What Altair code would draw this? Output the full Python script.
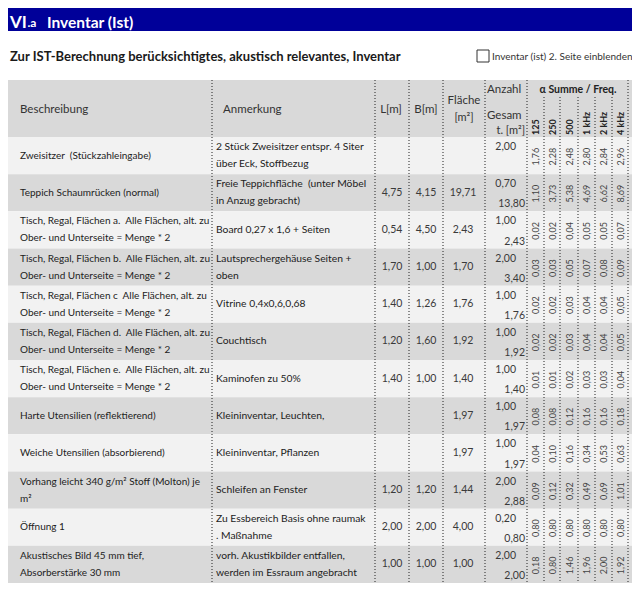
import altair as alt
import pandas as pd

# ---------------- data ----------------
TITLE_MAIN = "VI"
TITLE_SUB = ".a"
TITLE_TEXT = "Inventar (Ist)"
SUBTITLE = "Zur IST-Berechnung berücksichtigtes, akustisch relevantes, Inventar"
CHECKBOX_LABEL = "Inventar (ist) 2. Seite einblenden"
FREQ_GROUP = "α Summe / Freq."
FREQ_LABELS = ["125", "250", "500", "1 kHz", "2 kHz", "4 kHz"]

beschreibung = [
    "Zweisitzer  (Stückzahleingabe)",
    "Teppich Schaumrücken (normal)",
    "Tisch, Regal, Flächen a.  Alle Flächen, alt. zu\nOber- und Unterseite = Menge * 2",
    "Tisch, Regal, Flächen b.  Alle Flächen, alt. zu\nOber- und Unterseite = Menge * 2",
    "Tisch, Regal, Flächen c  Alle Flächen, alt. zu\nOber- und Unterseite = Menge * 2",
    "Tisch, Regal, Flächen d.  Alle Flächen, alt. zu\nOber- und Unterseite = Menge * 2",
    "Tisch, Regal, Flächen e.  Alle Flächen, alt. zu\nOber- und Unterseite = Menge * 2",
    "Harte Utensilien (reflektierend)",
    "Weiche Utensilien (absorbierend)",
    "Vorhang leicht 340 g/m² Stoff (Molton) je\nm²",
    "Öffnung 1",
    "Akustisches Bild 45 mm tief,\nAbsorberstärke 30 mm",
]
anmerkung = [
    "2 Stück Zweisitzer entspr. 4 Siter\nüber Eck, Stoffbezug",
    "Freie Teppichfläche  (unter Möbel\nin Anzug gebracht)",
    "Board 0,27 x 1,6 + Seiten",
    "Lautsprechergehäuse Seiten +\noben",
    "Vitrine 0,4x0,6,0,68",
    "Couchtisch",
    "Kaminofen zu 50%",
    "Kleininventar, Leuchten,",
    "Kleininventar, Pflanzen",
    "Schleifen an Fenster",
    "Zu Essbereich Basis ohne raumak\n. Maßnahme",
    "vorh. Akustikbilder entfallen,\nwerden im Essraum angebracht",
]
laenge = [None, 4.75, 0.54, 1.70, 1.40, 1.20, 1.40, None, None, 1.20, 2.00, 1.00]
breite = [None, 4.15, 4.50, 1.00, 1.26, 1.60, 1.00, None, None, 1.20, 2.00, 1.00]
flaeche = [None, 19.71, 2.43, 1.70, 1.76, 1.92, 1.40, 1.97, 1.97, 1.44, 4.00, 1.00]
anzahl = [2.00, 0.70, 1.00, 2.00, 1.00, 1.00, 1.00, 1.00, 1.00, 2.00, 0.20, 2.00]
gesamt = [None, 13.80, 2.43, 3.40, 1.76, 1.92, 1.40, 1.97, 1.97, 2.88, 0.80, 2.00]
a125 = [1.76, 1.10, 0.02, 0.03, 0.02, 0.02, 0.01, 0.08, 0.04, 0.09, 0.80, 0.18]
a250 = [2.28, 3.73, 0.02, 0.03, 0.02, 0.02, 0.01, 0.08, 0.10, 0.12, 0.80, 0.80]
a500 = [2.48, 5.38, 0.04, 0.05, 0.03, 0.03, 0.02, 0.12, 0.16, 0.32, 0.80, 1.46]
a1k = [2.80, 4.69, 0.05, 0.07, 0.04, 0.04, 0.03, 0.16, 0.34, 0.49, 0.80, 1.96]
a2k = [2.84, 6.62, 0.05, 0.08, 0.04, 0.04, 0.03, 0.16, 0.53, 0.69, 0.80, 2.00]
a4k = [2.96, 8.69, 0.07, 0.09, 0.05, 0.05, 0.04, 0.18, 0.63, 1.01, 0.80, 1.92]
alphas = [a125, a250, a500, a1k, a2k, a4k]

# ---------------- layout (page pixel grid) ----------------
W, H = 624, 575
X0, Y0 = 8, 8
FONT = "Lato"
TABLE_L, TABLE_R = 8, 633
HEAD_T, HEAD_B = 80, 137
ROW_H = (Y0 + H - HEAD_B) / len(beschreibung)
COL_LINES = [212, 375, 409, 443, 485, 527, 544, 560, 578, 595, 612, 628]
FREQ_INNER = [544, 560, 578, 595, 612]
FREQ_CENTERS = [536, 552.5, 569.5, 587, 604, 620.5]
LINE_GAP = 17
DARK = "#222222"
NUM = "#3a3a3a"
HEAD = "#333333"


def fmt(v):
    return "" if v is None else f"{v:.2f}".replace(".", ",")


def keep_spaces(s):
    return s.replace("  ", " \u00a0")


xs = alt.Scale(domain=[X0, X0 + W], range=[0, W])
ys = alt.Scale(domain=[Y0, Y0 + H], range=[0, H])

# rectangles
rects = [
    dict(x=X0, x2=X0 + W, y=Y0, y2=31, c="#000099"),
    dict(x=TABLE_L, x2=TABLE_R, y=HEAD_T, y2=HEAD_B, c="#d9d9d9"),
]
for i in range(len(beschreibung)):
    top = HEAD_B + i * ROW_H
    rects.append(dict(x=TABLE_L, x2=TABLE_R, y=top, y2=top + ROW_H,
                      c="#f2f2f2" if i % 2 == 0 else "#d9d9d9"))
rect_df = pd.DataFrame(rects)
rect_layer = alt.Chart(rect_df).mark_rect(clip=True).encode(
    x=alt.X("x:Q", scale=xs, axis=None), x2="x2:Q",
    y=alt.Y("y:Q", scale=ys, axis=None), y2="y2:Q",
    color=alt.Color("c:N", scale=None),
)

checkbox = alt.Chart(pd.DataFrame([dict(x=477, x2=489, y=50, y2=62)])).mark_rect(
    fill="white", stroke="#333333", strokeWidth=1
).encode(x=alt.X("x:Q", scale=xs, axis=None), x2="x2:Q",
         y=alt.Y("y:Q", scale=ys, axis=None), y2="y2:Q")

# dotted column lines
lines = []
for xv in COL_LINES:
    top = 97 if xv in FREQ_INNER else HEAD_T
    lines.append(dict(x=xv, y=top, y2=HEAD_B + len(beschreibung) * ROW_H))
rule_layer = alt.Chart(pd.DataFrame(lines)).mark_rule(
    color="#222222", strokeDash=[1, 2], strokeWidth=1
).encode(x=alt.X("x:Q", scale=xs, axis=None),
         y=alt.Y("y:Q", scale=ys, axis=None), y2="y2:Q")

# texts
texts = []


def add(x, y, t, size=10, color=DARK, align="left", weight="normal", angle=0):
    texts.append(dict(x=x, y=y, t=keep_spaces(t), size=size, color=color,
                      align=align, weight=weight, angle=angle))


def add_multi(x, yc, t, **kw):
    parts = t.split("\n")
    n = len(parts)
    for k, p in enumerate(parts):
        add(x, yc + (k - (n - 1) / 2) * LINE_GAP, p, **kw)


add(10, 57, SUBTITLE, size=13, color="#1a1a1a", weight="bold")
add(492, 56.5, CHECKBOX_LABEL, size=10, color="#333333")

# header
hy = (HEAD_T + HEAD_B) / 2 + 1
add(20, hy, "Beschreibung", size=11.5, color=HEAD)
add(223, hy, "Anmerkung", size=11.5, color=HEAD)
add(391, hy, "L[m]", size=11.5, color=HEAD, align="center")
add(426, hy, "B[m]", size=11.5, color=HEAD, align="center")
add(464, 101, "Fläche", size=11.5, color=HEAD, align="center")
add(464, 118, "[m²]", size=11, color=HEAD, align="center")
add(487, 90, "Anzahl", size=11.5, color=HEAD)
add(487, 116, "Gesam", size=11.5, color=HEAD)
add(525, 131, "t. [m²]", size=11, color=HEAD, align="right")
add(578, 90, FREQ_GROUP, size=10.5, color="#222222", align="center", weight="bold")
for cx, lab in zip(FREQ_CENTERS, FREQ_LABELS):
    add(cx, 135, lab, size=9, color="#222222", align="left", weight="bold", angle=270)

# body
for i in range(len(beschreibung)):
    top = HEAD_B + i * ROW_H
    yc = top + ROW_H / 2
    add_multi(20, yc, beschreibung[i], size=10)
    add_multi(216, yc, anmerkung[i], size=10.3)
    add(392, yc, fmt(laenge[i]), size=10.5, color=NUM, align="center")
    add(426, yc, fmt(breite[i]), size=10.5, color=NUM, align="center")
    add(463, yc, fmt(flaeche[i]), size=10.5, color=NUM, align="center")
    add(516, top + 10, fmt(anzahl[i]), size=10.5, color=NUM, align="right")
    add(525, top + ROW_H - 7, fmt(gesamt[i]), size=10.5, color=NUM, align="right")
    for cx, arr in zip(FREQ_CENTERS, alphas):
        add(cx, yc + 1, fmt(arr[i]), size=9, color="#444444", align="center", angle=270)

tdf = pd.DataFrame(texts)
tdf = tdf[tdf["t"] != ""]

text_layers = []
for (align, weight), g in tdf.groupby(["align", "weight"]):
    text_layers.append(
        alt.Chart(g).mark_text(align=align, baseline="middle", font=FONT,
                               fontWeight=weight).encode(
            x=alt.X("x:Q", scale=xs, axis=None),
            y=alt.Y("y:Q", scale=ys, axis=None),
            text="t:N",
            size=alt.Size("size:Q", scale=None),
            color=alt.Color("color:N", scale=None),
            angle=alt.Angle("angle:Q", scale=None),
        )
    )

# title pieces
title_df = pd.DataFrame([
    dict(x=10, y=20, t=TITLE_MAIN, size=17),
    dict(x=27.5, y=20, t=TITLE_SUB, size=12),
    dict(x=47, y=20, t=TITLE_TEXT, size=15.5),
])
title_layer = alt.Chart(title_df).mark_text(
    align="left", baseline="middle", dy=3, font=FONT, fontWeight="bold", color="white"
).encode(
    x=alt.X("x:Q", scale=xs, axis=None),
    y=alt.Y("y:Q", scale=ys, axis=None),
    text="t:N",
    size=alt.Size("size:Q", scale=None),
)

chart = alt.layer(rect_layer, checkbox, rule_layer, *text_layers, title_layer).properties(
    width=W, height=H, autosize=alt.AutoSizeParams(type="none"), padding=0,
    background="white",
).configure_view(stroke=None)

chart.save("out.html", embed_options={"renderer": "svg", "actions": False})
